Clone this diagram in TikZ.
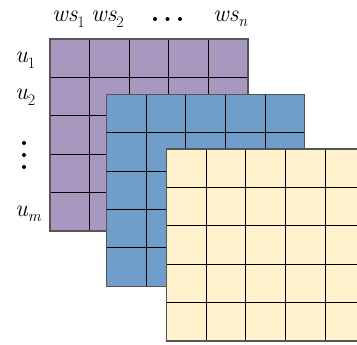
\documentclass[tikz,border=0pt]{standalone}
\usepackage{fontspec}
\definecolor{layerA}{HTML}{A898C0}
\definecolor{layerB}{HTML}{6F9ECB}
\definecolor{layerC}{HTML}{FFF2CC}
\definecolor{rim}{HTML}{555555}
% one 5x5 sheet: #1,#2 = top-left corner, #3 = fill colour
\newcommand{\sheet}[3]{%
  \begin{scope}[shift={(#1,#2)}]
    \fill[#3] (0,0) rectangle (5*\cw,5*\ch);
    \foreach \i in {1,...,4} {
      \draw[gridline] (\i*\cw,0) -- (\i*\cw,5*\ch);
      \draw[gridline] (0,\i*\ch) -- (5*\cw,\i*\ch);
    }
    \draw[rimline] (0,0) rectangle (5*\cw,5*\ch);
  \end{scope}}
% italic symbol with a lowered index
\newcommand{\lbl}[3]{{\fontsize{24}{28}\selectfont\itshape #1}%
  \raisebox{-#3pt}{\fontsize{16}{18}\selectfont #2}}
\def\cw{39.6}
\def\ch{38.4}
\begin{document}
\begin{tikzpicture}[x=1pt,y=-1pt,
  gridline/.style={black,line width=1.1pt},
  rimline/.style={rim,line width=1.4pt},
  lab/.style={inner sep=0pt,anchor=base west},
  dot/.style={circle,fill=black,inner sep=0pt,minimum size=4pt}]
  \useasboundingbox (0,0) rectangle (357,345);
  \clip (0,0) rectangle (357,345);
  \sheet{50}{39}{layerA}
  \sheet{106.7}{94.3}{layerB}
  \sheet{166.7}{149}{layerC}
  % column labels
  \node[lab] (w1) at (52,22) {\lbl{ws}{1}{6}};
  \node[lab] (w2) at (91,22) {\lbl{ws}{2}{6}};
  \node[lab] (wn) at (213,22) {\lbl{ws}{\itshape n}{5}};
  \node[dot] (h1) at (155,19) {};
  \node[dot] (h2) at (167.5,19) {};
  \node[dot] (h3) at (180,19) {};
  % row labels
  \node[lab] (u1) at (15,63) {\lbl{u}{1}{6}};
  \node[lab] (u2) at (15,100) {\lbl{u}{2}{6}};
  \node[lab] (um) at (15,217) {\lbl{u}{\itshape m}{5}};
  \node[dot] (v1) at (24,143) {};
  \node[dot] (v2) at (24,155) {};
  \node[dot] (v3) at (24,167) {};
\end{tikzpicture}
\end{document}
